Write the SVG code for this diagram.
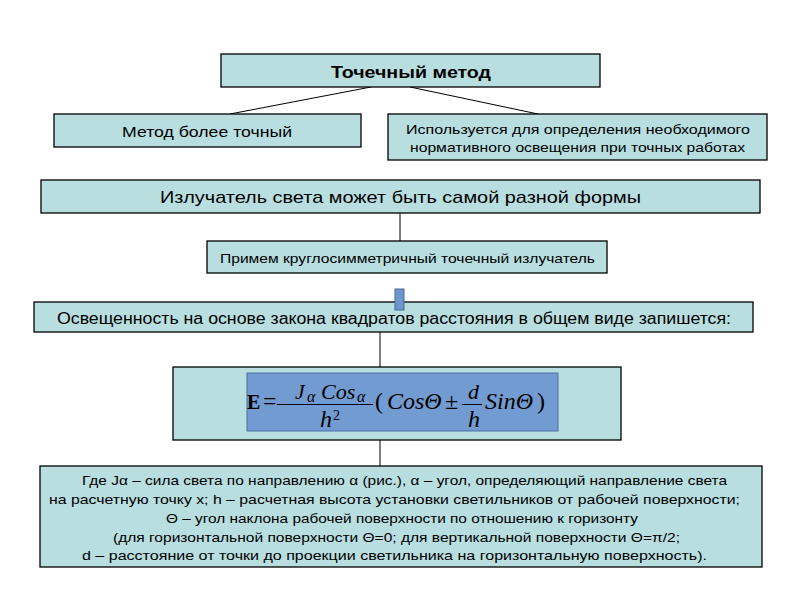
<svg xmlns="http://www.w3.org/2000/svg" width="800" height="600" viewBox="0 0 800 600">
<style>
.box{fill:#B8DEE0;stroke:#000;stroke-width:1.3}
.t{font-family:"Liberation Sans",Arial,sans-serif;fill:#000;text-anchor:middle}
.c{stroke:#000;stroke-width:1;fill:none}
.m{font-family:"Liberation Serif","Times New Roman",serif;fill:#000;font-style:italic}
.r{font-family:"Liberation Serif","Times New Roman",serif;fill:#000}
</style>
<rect width="800" height="600" fill="#fff"/>
<g id="connectors">
<line class="c" x1="371" y1="87" x2="230" y2="114"/>
<line class="c" x1="410" y1="87" x2="538" y2="114"/>
<line class="c" x1="400" y1="213" x2="400" y2="241"/>
<line class="c" x1="380" y1="332" x2="380" y2="367"/>
<line class="c" x1="380" y1="440" x2="380" y2="466"/>
</g>
<g id="n1"><rect class="box" x="221" y="54" width="379" height="33"/><text class="t" x="411" y="78" font-size="16" font-weight="bold" textLength="160" lengthAdjust="spacingAndGlyphs">Точечный метод</text></g>
<g id="n2"><rect class="box" x="54" y="114" width="307" height="33"/><text class="t" x="207" y="137" font-size="15" textLength="170" lengthAdjust="spacingAndGlyphs">Метод более точный</text></g>
<g id="n3"><rect class="box" x="388" y="114" width="379" height="46"/><text class="t" x="578" y="134" font-size="13" textLength="344" lengthAdjust="spacingAndGlyphs">Используется для определения необходимого</text><text class="t" x="577.5" y="152" font-size="13" textLength="335" lengthAdjust="spacingAndGlyphs">нормативного освещения при точных работах</text></g>
<g id="n4"><rect class="box" x="41" y="180" width="719" height="33"/><text class="t" x="400.5" y="203" font-size="17" textLength="481" lengthAdjust="spacingAndGlyphs">Излучатель света может быть самой разной формы</text></g>
<g id="n5"><rect class="box" x="207" y="241" width="400" height="32"/><text class="t" x="407.5" y="263" font-size="13" textLength="375" lengthAdjust="spacingAndGlyphs">Примем круглосимметричный точечный излучатель</text></g>
<g id="n6"><rect class="box" x="34" y="302" width="719" height="30"/><text class="t" x="394" y="324" font-size="16" textLength="674" lengthAdjust="spacingAndGlyphs">Освещенность на основе закона квадратов расстояния в общем виде запишется:</text><rect x="395" y="289" width="9" height="21" fill="#6F96CC" stroke="#45689A" stroke-width="1"/></g>
<g id="n7"><rect class="box" x="173" y="367" width="448" height="73"/>
<rect x="247" y="373" width="311" height="58" fill="#729BD1" stroke="#4A70A6" stroke-width="1"/>
<text class="r" x="247" y="409" font-size="20" font-weight="bold">E</text>
<text class="r" x="263" y="409" font-size="24">=</text>
<text class="m" x="295" y="399" font-size="22">J</text>
<text class="m" x="307" y="402" font-size="16">α</text>
<text class="m" x="321" y="399" font-size="22">Cos</text>
<text class="m" x="357" y="402" font-size="16">α</text>
<line x1="277" y1="404.5" x2="373" y2="404.5" stroke="#000" stroke-width="1"/>
<text class="m" x="320" y="427" font-size="24">h</text>
<text class="r" x="333" y="420" font-size="14">2</text>
<text class="r" x="375" y="409" font-size="24">(</text>
<text class="m" x="387" y="409" font-size="24">CosΘ</text>
<text class="r" x="445" y="409" font-size="24">±</text>
<text class="m" x="468" y="399" font-size="22">d</text>
<line x1="462" y1="404.5" x2="482" y2="404.5" stroke="#000" stroke-width="1"/>
<text class="m" x="468" y="427" font-size="24">h</text>
<text class="m" x="485" y="409" font-size="24">SinΘ</text>
<text class="r" x="537" y="409" font-size="24">)</text>
</g>
<g id="n8"><rect class="box" x="40" y="466" width="722" height="101"/>
<text class="t" font-size="13" x="404.5" y="485" textLength="645" lengthAdjust="spacingAndGlyphs">Где  Jα – сила света по направлению α (рис.), α – угол, определяющий направление света</text>
<text class="t" font-size="13" x="394.5" y="504" textLength="691" lengthAdjust="spacingAndGlyphs">на расчетную точку x; h – расчетная высота установки светильников от рабочей поверхности;</text>
<text class="t" font-size="13" x="402" y="523" textLength="472" lengthAdjust="spacingAndGlyphs">Θ – угол наклона рабочей поверхности по отношению к горизонту</text>
<text class="t" font-size="13" x="396.5" y="542" textLength="567" lengthAdjust="spacingAndGlyphs">(для горизонтальной поверхности Θ=0; для вертикальной поверхности Θ=π/2;</text>
<text class="t" font-size="13" x="394.5" y="560" textLength="625" lengthAdjust="spacingAndGlyphs">d – расстояние от точки до проекции светильника на горизонтальную поверхность).</text>
</g>
</svg>
